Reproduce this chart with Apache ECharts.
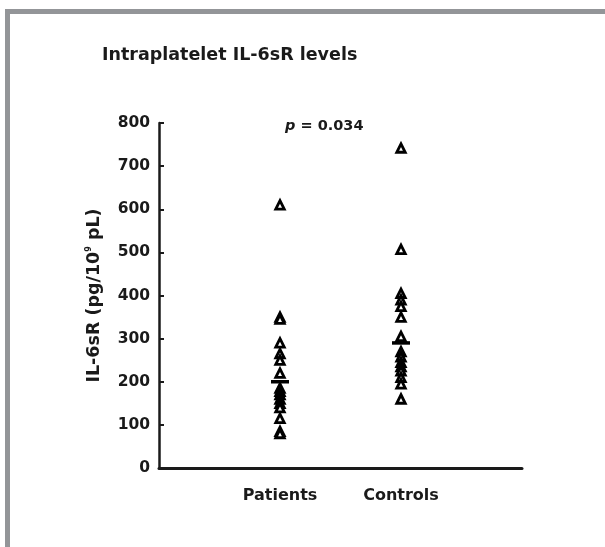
<!DOCTYPE html>
<html><head><meta charset="utf-8">
<script src="https://cdn.jsdelivr.net/npm/echarts@6/dist/echarts.min.js"></script>
<style>html,body{margin:0;padding:0;background:#fff}#c{width:605px;height:547px}</style>
</head><body><div id="c"></div>
<script>
var groups = ['Patients', 'Controls'];
var patients = [610, 350, 345, 290, 265, 250, 220, 185, 178, 170, 160, 150, 140, 115, 85, 80];
var controls = [742, 507, 405, 390, 375, 350, 305, 270, 258, 245, 235, 225, 210, 195, 160];
var medians = [200, 290];
var yTicks = [0, 100, 200, 300, 400, 500, 600, 700, 800];
var pText = '0.034';

var chart = echarts.init(document.getElementById('c'), null, {renderer: 'canvas'});
var font = 'DejaVu Sans, Liberation Sans, Arial, sans-serif';
var ink = '#1a1a1a';
function pts(vals, gi) { return vals.map(function (v) { return [gi + 1, v]; }); }
var option = {
  animation: false,
  backgroundColor: '#fff',
  grid: {left: 159, right: 83, top: 123, bottom: 79},
  title: {
    text: 'Intraplatelet IL-6sR levels', left: 97, top: 41,
    textStyle: {fontFamily: font, fontWeight: 'bold', fontSize: 17.5, color: ink}
  },
  xAxis: {
    type: 'value', min: 0, max: 3, interval: 1,
    axisLine: {show: true, lineStyle: {color: ink, width: 3}},
    axisTick: {show: false}, splitLine: {show: false},
    axisLabel: {
      margin: 20, fontFamily: font, fontWeight: 'bold', fontSize: 16, color: ink,
      formatter: function (v) { return groups[v - 1] || ''; }
    }
  },
  yAxis: {
    type: 'value', min: yTicks[0], max: yTicks[yTicks.length - 1], interval: 100,
    name: '{a|IL-6sR (pg/10}{s|9}{a| pL)}', nameLocation: 'middle', nameGap: 56,
    nameTextStyle: {rich: {
      a: {fontFamily: font, fontWeight: 'bold', fontSize: 17.5, color: ink},
      s: {fontFamily: font, fontWeight: 'bold', fontSize: 8, color: ink, verticalAlign: 'top', padding: [0, 0, 9, 0]}
    }},
    axisLine: {show: true, lineStyle: {color: ink, width: 2.5}},
    axisTick: {show: true, inside: true, length: 5, lineStyle: {color: ink, width: 2}},
    splitLine: {show: false},
    axisLabel: {margin: 9, fontFamily: font, fontWeight: 'bold', fontSize: 15.5, color: ink}
  },
  series: [
    {type: 'scatter', data: pts(patients, 0), symbol: 'triangle', symbolSize: 8.5,
      itemStyle: {color: '#fff', borderColor: '#000', borderWidth: 2.8, opacity: 1}},
    {type: 'scatter', data: pts(controls, 1), symbol: 'triangle', symbolSize: 8.5,
      itemStyle: {color: '#fff', borderColor: '#000', borderWidth: 2.8, opacity: 1}},
    {type: 'scatter', data: medians.map(function (m, i) { return [i + 1, m]; }),
      symbol: 'rect', symbolSize: [18, 3.5], z: 5,
      itemStyle: {color: '#000', opacity: 1}}
  ],
  graphic: [
    {type: 'rect', shape: {x: 5, y: 9, width: 600, height: 5}, style: {fill: '#939598'}},
    {type: 'rect', shape: {x: 5, y: 9, width: 5, height: 538}, style: {fill: '#939598'}},
    {type: 'text', left: 285, top: 119, style: {
      text: '{i|p}{b| = ' + pText + '}',
      rich: {
        i: {fontFamily: font, fontWeight: 'bold', fontStyle: 'italic', fontSize: 14.5, fill: ink},
        b: {fontFamily: font, fontWeight: 'bold', fontSize: 14.5, fill: ink}
      }
    }}
  ]
};
chart.setOption(option);
</script></body></html>
